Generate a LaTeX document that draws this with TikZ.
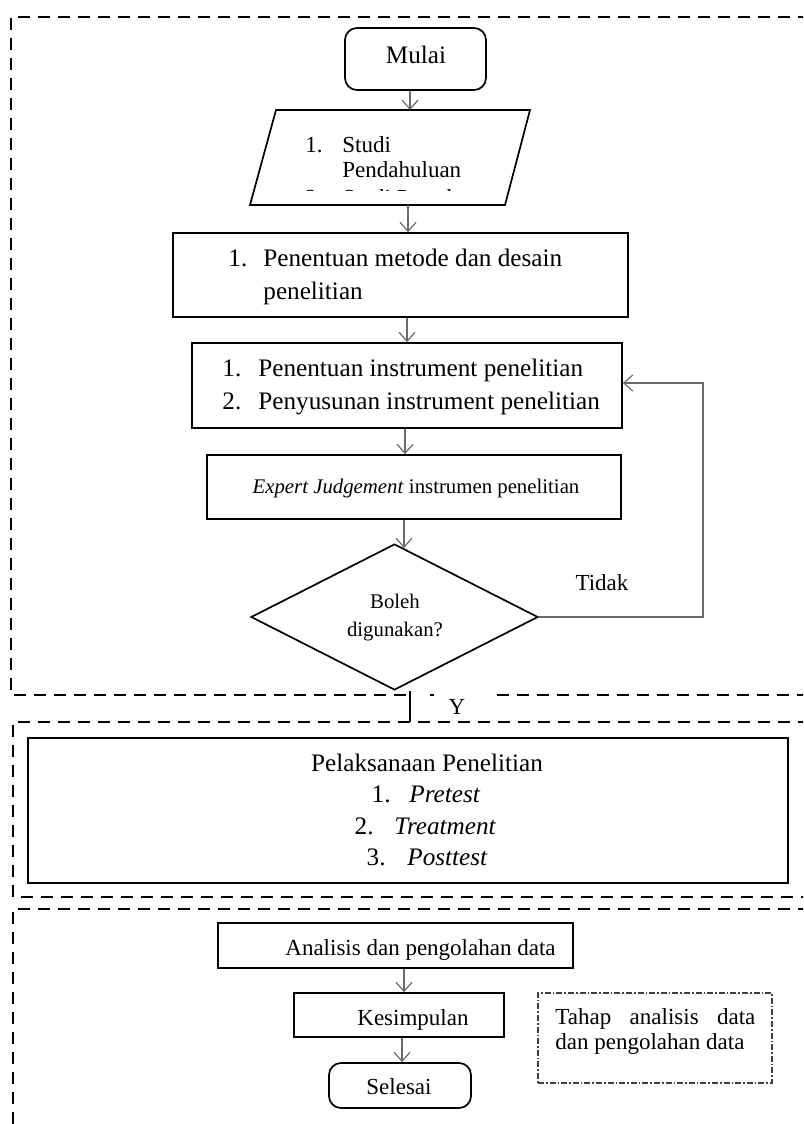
\documentclass[tikz,border=0pt]{standalone}
\usepackage{fontspec}
\setmainfont{Liberation Serif}
\usetikzlibrary{arrows.meta,fit,shapes.geometric}
\definecolor{arrgray}{HTML}{6A6A6A}
\begin{document}
\begin{tikzpicture}[x=0.5pt,y=-0.5pt,
  box/.style={draw, line width=0.85pt, inner sep=0pt, rectangle},
  rbox/.style={box, rounded corners=6pt},
  arr/.style={draw=arrgray, line width=0.6pt, -{Straight Barb[length=4.5pt,width=8pt]}},
  frame/.style={line width=1.4pt, dash pattern=on 6pt off 4pt},
  dashdot/.style={draw=black!75, line width=0.6pt, dash pattern=on 3pt off 1pt on 0.8pt off 1pt, inner sep=0pt},
  big/.style={font=\fontsize{12.6}{15}\selectfont, inner sep=0pt},
  med/.style={font=\fontsize{11.5}{14}\selectfont, inner sep=0pt},
  small/.style={font=\fontsize{10.4}{13}\selectfont, inner sep=0pt},
]
\useasboundingbox (0,0) rectangle (803,1124);
\clip (0,0) rectangle (803,1124);
\fill[white] (0,0) rectangle (803,1124);

% dashed frames
\draw[frame] (830,17) -- (11,17) -- (11,695) -- (407,695);
\draw[frame] (497,695) -- (830,695);
\draw[line width=1.4pt] (430,695) -- (434,695);
\draw[frame] (830,722) -- (13,722) -- (13,897) -- (830,897);
\draw[frame] (830,909) -- (13,909) -- (13,1140);

% Mulai
\node[rbox, fit={(345,28)(486,90)}] (mulai) {};
\node[big] (mulait) at (416,55) {Mulai};

% parallelogram
\coordinate (pt) at (410,110);
\coordinate (pb) at (408,205);
\draw[line width=0.85pt] (276,110) -- (530,110) -- (505,205) -- (250,205) -- cycle;
\begin{scope}
\clip (250,112) rectangle (540,190);
\node[med, anchor=base west] (s1n) at (305,152) {1.};
\node[med, anchor=base west] (s1t) at (342,152) {Studi};
\node[med, anchor=base west] (s2t) at (342,177) {Pendahuluan};
\node[med, anchor=base west] (s3n) at (305,205) {2.};
\node[med, anchor=base west] (s3t) at (342,205) {Studi Pustaka};
\end{scope}

% box 3
\node[box, fit={(173,233)(628,317)}] (metode) {};
\node[big, anchor=base west] (m1n) at (228,266) {1.};
\node[big, anchor=base west] (m1t) at (263,266) {Penentuan metode dan desain};
\node[big, anchor=base west] (m2t) at (263,299) {penelitian};

% box 4
\node[box, fit={(192,343)(622,428)}] (instr) {};
\node[big, anchor=base west] (i1n) at (222,376) {1.};
\node[big, anchor=base west] (i1t) at (258,376) {Penentuan instrument penelitian};
\node[big, anchor=base west] (i2n) at (222,409) {2.};
\node[big, anchor=base west] (i2t) at (258,409) {Penyusunan instrument penelitian};

% expert
\node[box, fit={(207,455)(621,519)}] (expert) {};
\node[small] (expt) at (416,488) {\textit{Expert Judgement} instrumen penelitian};

% diamond
\node[draw, diamond, line width=0.85pt, minimum width=143.5pt, minimum height=73pt, inner sep=0pt] (dia) at (394.5,617) {};
\node[small, align=center, font=\fontsize{10.4}{14}\selectfont] (diat) at (395,618) {Boleh\\digunakan?};
\node[med] (tidak) at (602,583) {Tidak};
\node[med] (ylab) at (457,707) {Y};

% arrows top
\draw[arr] (mulai.south -| pt) -- (pt);
\draw[arr] (pb) -- (pb |- metode.north);
\coordinate (ax3) at (407,0);
\draw[arr] (metode.south -| ax3) -- (instr.north -| ax3);
\coordinate (ax4) at (405,0);
\draw[arr] (instr.south -| ax4) -- (expert.north -| ax4);
\coordinate (ax5) at (404,548);
\draw[arr] (expert.south -| ax5) -- (ax5);

% feedback
\coordinate (fb) at (703,383);
\draw[arr] (dia.east) -| (fb) -- (fb -| instr.east);

% Y line
\coordinate (ytop) at (410,691);
\coordinate (ybot) at (410,722);
\draw[line width=0.85pt] (ytop) -- (ybot);

% Pelaksanaan
\node[box, line width=0.75pt, fit={(28,738)(788,883)}] (pel) {};
\node[big] (pelt) at (427,763) {Pelaksanaan Penelitian};
\node[big, anchor=base east] (p1n) at (391,802) {1.};
\node[big, anchor=base west] (p1t) at (409,802) {\textit{Pretest}};
\node[big, anchor=base east] (p2n) at (374,834) {2.};
\node[big, anchor=base west] (p2t) at (394,834) {\textit{Treatment}};
\node[big, anchor=base east] (p3n) at (386,865) {3.};
\node[big, anchor=base west] (p3t) at (407,865) {\textit{Posttest}};

% bottom section
\node[box, fit={(218,923)(573,968)}] (anal) {};
\node[med, anchor=base west] (analt) at (285,955) {Analisis dan pengolahan data};
\node[box, fit={(294,993)(504,1037)}] (kes) {};
\node[med, anchor=base west] (kest) at (357,1025) {Kesimpulan};
\node[rbox, fit={(329,1063)(471,1108)}] (sel) {};
\node[med] (selt) at (399,1087) {Selesai};
\coordinate (ax6) at (404,0);
\draw[arr] (anal.south -| ax6) -- (kes.north -| ax6);
\coordinate (ax7) at (402,0);
\draw[arr] (kes.south -| ax7) -- (sel.north -| ax7);

\node[dashdot, fit={(538,993)(772,1083)}] (tahap) {};
\node[med, anchor=base west] (taht1) at (555,1024) {\makebox[100pt][s]{Tahap analisis data}};
\node[med, anchor=base west] (taht2) at (555,1049) {dan pengolahan data};
\end{tikzpicture}
\end{document}
